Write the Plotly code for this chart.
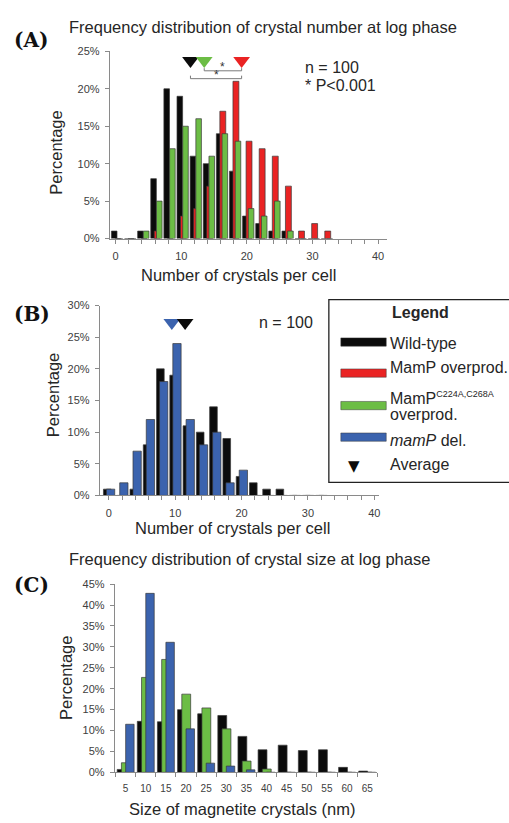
import plotly.graph_objects as go

# ---------------- data ----------------
crystal_counts = [0, 2, 4, 6, 8, 10, 12, 14, 16, 18, 20, 22, 24, 26, 28, 30, 32]
wt_count_pct = [1, 0, 1, 8, 20, 19, 11, 10, 14, 9, 3, 2, 1, 1, 0, 0, 0]
mamp_over_pct = [0, 0, 0, 1, 0, 3, 4, 7, 17, 21, 13, 12, 11, 7, 1, 2, 1]
mamp_mut_pct = [0, 0, 1, 5, 12, 15, 16, 11, 14, 13, 4, 3, 5, 1, 0, 0, 0]
mamp_del_pct = [1, 2, 7, 12, 18, 24, 12, 8, 10, 2, 4, 0, 0, 0, 0, 0, 0]

sizes_nm = [5, 10, 15, 20, 25, 30, 35, 40, 45, 50, 55, 60, 65]
wt_size_pct = [0.7, 12.2, 12.1, 15.0, 14.0, 13.6, 8.6, 5.4, 6.5, 5.2, 5.4, 1.2, 0.3]
mut_size_pct = [2.3, 22.7, 27.0, 18.7, 15.4, 10.4, 2.7, 0.8, 0, 0, 0, 0, 0]
del_size_pct = [11.5, 42.8, 31.1, 10.4, 2.2, 1.5, 0.6, 0, 0, 0, 0, 0, 0]

# averages (triangles)
avg_A = {"wt": 11.4, "mut": 13.5, "over": 19.2}
avg_B = {"del": 9.5, "wt": 11.5}
avg_C = {"del": 10.4, "mut": 16.5, "wt": 26.3}

series_names = ["Wild-type", "MamP overprod.",
                "MamP<sup><span style='font-size:9px'>C224A,C268A</span></sup>",
                "<i>mamP</i> del."]

# ---------------- style ----------------
W, H = 509, 823
BLACK = "#0b0b0b"
RED = "#ea2323"
GREEN = "#6cbd45"
BLUE = "#3b63ae"
EDGE = "#3a3a3a"
AX = "#8a8a8a"
TXT = "#262626"
TICK = "#404040"
SANS = "Liberation Sans, Arial, sans-serif"
SERIF = "DejaVu Serif, serif"


def px_x(p):
    return p / W


def px_y(p):
    return 1 - p / H


fig = go.Figure()


def bar(x, y, color, xa, ya, offset, width, name):
    fig.add_trace(go.Bar(
        x=x, y=y, xaxis=xa, yaxis=ya, offset=offset, width=width, name=name,
        marker=dict(color=color, line=dict(color=EDGE, width=0.7)),
        showlegend=False, hoverinfo="x+y"))


def tri(x, y, color, xa, ya, size=14.5):
    fig.add_trace(go.Scatter(
        x=x, y=y, xaxis=xa, yaxis=ya, mode="markers", cliponaxis=False,
        marker=dict(symbol="triangle-down", size=size, color=color, line=dict(width=0)),
        showlegend=False, hoverinfo="skip"))


# Panel A
bar(crystal_counts, wt_count_pct, BLACK, "x", "y", -0.65, 0.85, series_names[0])
bar(crystal_counts, mamp_over_pct, RED, "x", "y", -0.12, 0.9, series_names[1])
bar(crystal_counts, mamp_mut_pct, GREEN, "x", "y", 0.22, 0.85, series_names[2])
tri([avg_A["wt"]], [23.75], BLACK, "x", "y")
tri([avg_A["mut"]], [23.75], GREEN, "x", "y")
tri([avg_A["over"]], [23.75], RED, "x", "y")

# Panel B
bar(crystal_counts, wt_count_pct, BLACK, "x2", "y2", -0.8, 1.15, series_names[0])
bar(crystal_counts, mamp_del_pct, BLUE, "x2", "y2", -0.35, 1.25, series_names[3])
tri([avg_B["del"]], [27.3], BLUE, "x2", "y2")
tri([avg_B["wt"]], [27.3], BLACK, "x2", "y2")

# Panel C
bar(sizes_nm, wt_size_pct, BLACK, "x3", "y3", -2.1, 2.2, series_names[0])
bar(sizes_nm, mut_size_pct, GREEN, "x3", "y3", -1.05, 2.2, series_names[2])
bar(sizes_nm, del_size_pct, BLUE, "x3", "y3", 0.0, 2.1, series_names[3])
tri([avg_C["del"]], [46.4], BLUE, "x3", "y3")
tri([avg_C["mut"]], [46.4], GREEN, "x3", "y3")
tri([avg_C["wt"]], [46.4], BLACK, "x3", "y3")

axis_common = dict(showgrid=False, zeroline=False, showline=True, linecolor=AX, linewidth=1,
                   ticks="outside", ticklen=4, tickcolor=AX,
                   tickfont=dict(family=SANS, size=11, color=TICK))

fig.update_layout(
    width=W, height=H, margin=dict(l=0, r=0, t=0, b=0),
    paper_bgcolor="white", plot_bgcolor="white", barmode="overlay", showlegend=False,
    xaxis=dict(axis_common, domain=[px_x(110), px_x(388)], range=[-0.9, 41.4],
               tickvals=[0, 10, 20, 30, 40], ticklabelstandoff=3,
               minor=dict(ticks="outside", dtick=2, tick0=0, ticklen=4, tickcolor=AX),
               anchor="y"),
    yaxis=dict(axis_common, domain=[px_y(236), px_y(46)], range=[0, 25], dtick=5,
               ticksuffix="%", ticklabelstandoff=3, anchor="x"),
    xaxis2=dict(axis_common, domain=[px_x(100), px_x(380)], range=[-1.35, 40.75],
                tickvals=[0, 10, 20, 30, 40], ticklabelstandoff=3,
                minor=dict(ticks="outside", dtick=2, tick0=0, ticklen=4, tickcolor=AX),
                anchor="y2"),
    yaxis2=dict(axis_common, domain=[px_y(496.7), px_y(304)], range=[0, 30], dtick=5,
                ticksuffix="%", ticklabelstandoff=3, anchor="x2"),
    xaxis3=dict(axis_common, domain=[px_x(115), px_x(378)], range=[2.3, 67.5],
                tickvals=sizes_nm, ticks="", ticklabelstandoff=7,
                tickfont=dict(family=SANS, size=10, color=TICK),
                minor=dict(ticks="outside", dtick=5, tick0=2.5, ticklen=4, tickcolor=AX),
                anchor="y3"),
    yaxis3=dict(axis_common, domain=[px_y(777.7), px_y(586.7)], range=[0, 45], dtick=5,
                ticksuffix="%", ticklabelstandoff=3, anchor="x3"),
)

ann = []


def text(x, y, s, size, family=SANS, color=TXT, xanchor="center", angle=0, bold=False):
    if bold:
        s = "<b>" + s + "</b>"
    ann.append(dict(x=px_x(x), y=px_y(y), xref="paper", yref="paper", text=s, showarrow=False,
                    font=dict(family=family, size=size, color=color), xanchor=xanchor,
                    yanchor="middle", textangle=angle))


# panel labels
text(12, 34, "(A)", 20, SERIF, "#111", "left", bold=True)
text(12, 313, "(B)", 20, SERIF, "#111", "left", bold=True)
text(12, 588, "(C)", 20, SERIF, "#111", "left", bold=True)

# titles
text(67, 21.5, "Frequency distribution of crystal number at log phase", 16.5, xanchor="left")
text(67, 561.5, "Frequency distribution of crystal size at log phase", 16.5, xanchor="left")

# n / P annotations
text(304, 62, "n = 100", 16, xanchor="left")
text(304, 81, "* P<0.001", 16, xanchor="left")
text(258, 321, "n = 100", 16, xanchor="left")

# axis titles
text(56, 149, "Percentage", 16.5, angle=-90)
text(53, 395, "Percentage", 16.5, angle=-90)
text(66, 682, "Percentage", 16.5, angle=-90)
text(239, 273, "Number of crystals per cell", 16.5)
text(233, 530, "Number of crystals per cell", 16.5)
text(243, 815, "Size of magnetite crystals (nm)", 16.5)

# significance brackets (panel A)
shapes = []
BR = "#7a7a7a"


def seg(x0, y0, x1, y1):
    shapes.append(dict(type="line", xref="x", yref="y", x0=x0, y0=y0, x1=x1, y1=y1,
                       line=dict(color=BR, width=1)))


seg(avg_A["mut"], 22.4, avg_A["over"], 22.4)
seg(avg_A["mut"], 22.4, avg_A["mut"], 22.75)
seg(avg_A["over"], 22.4, avg_A["over"], 22.75)
seg(avg_A["wt"], 21.35, avg_A["over"], 21.35)
seg(avg_A["wt"], 21.35, avg_A["wt"], 21.75)
seg(avg_A["over"], 21.35, avg_A["over"], 21.75)
for xm, ym in [((avg_A["mut"] + avg_A["over"]) / 2, 22.85), ((avg_A["wt"] + avg_A["over"]) / 2, 21.8)]:
    ann.append(dict(x=xm, y=ym, xref="x", yref="y", text="*", showarrow=False,
                    font=dict(family=SANS, size=12, color="#333"), yanchor="middle"))

# legend box (panel B)
shapes.append(dict(type="rect", xref="paper", yref="paper", x0=px_x(329.5), x1=px_x(520),
                   y0=px_y(483.5), y1=px_y(298), line=dict(color="#222", width=1.3),
                   fillcolor="white", layer="above"))
text(421, 311.5, "Legend", 16, bold=True)
swatch_y = [341, 372.5, 405.5, 437.5]
swatch_c = [BLACK, RED, GREEN, BLUE]
for yy, cc in zip(swatch_y, swatch_c):
    shapes.append(dict(type="rect", xref="paper", yref="paper", x0=px_x(341.5), x1=px_x(387),
                       y0=px_y(yy + 4.2), y1=px_y(yy - 4.2), fillcolor=cc,
                       line=dict(color=EDGE, width=0.5), layer="above"))
text(389, 342, series_names[0], 16, xanchor="left")
text(389, 367, series_names[1], 16, xanchor="left")
text(389, 398, series_names[2], 16, xanchor="left")
text(389, 415, "overprod.", 16, xanchor="left")
text(389, 441, series_names[3], 16, xanchor="left")
text(389, 465, "Average", 16, xanchor="left")
ann.append(dict(x=px_x(363), y=px_y(466.5), xref="paper", yref="paper", text="\u25BC",
                showarrow=False, font=dict(family="DejaVu Sans", size=15, color=BLACK)))

fig.update_layout(annotations=ann, shapes=shapes)
fig.write_html("out.html", config={"displayModeBar": False},
               post_script="document.body.style.margin='0';")
